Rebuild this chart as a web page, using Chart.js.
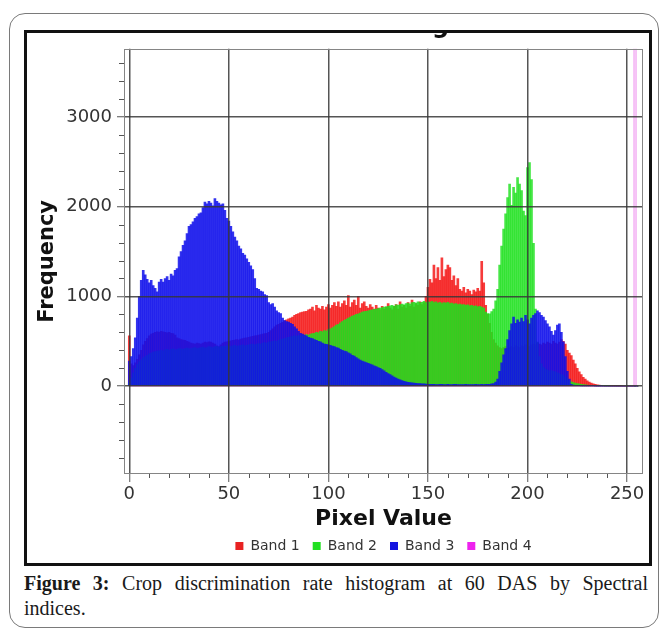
<!DOCTYPE html>
<html><head><meta charset="utf-8">
<script src="https://cdn.jsdelivr.net/npm/chart.js@4/dist/chart.umd.min.js"></script>
<style>
html,body{margin:0;padding:0;background:#fff;width:660px;height:628px;overflow:hidden;}
#frame{position:absolute;left:9px;top:13px;width:650px;height:615px;border:1px solid #7a7a7a;border-radius:16px;box-sizing:border-box;}
#box{position:absolute;left:24px;top:30px;width:628px;height:536px;border:3px solid #111;box-sizing:border-box;background:#fff;}
#box canvas{display:block;}
#cap{position:absolute;left:24px;top:571px;width:624px;font-family:'Liberation Serif','Times New Roman',serif;font-size:20px;line-height:25px;color:#1a1a1a;}
#cap .l1{text-align:justify;text-align-last:justify;white-space:nowrap;}
</style></head>
<body>
<div id="frame"></div>
<div id="box"><canvas id="c" width="622" height="530"></canvas></div>
<div id="cap"><div class="l1"><b>Figure 3:</b> Crop discrimination rate histogram at 60 DAS by Spectral</div><div>indices.</div></div>
<script>
const pixelValues = [
0,1,2,3,4,5,6,7,8,9,10,11,12,13,14,15,
16,17,18,19,20,21,22,23,24,25,26,27,28,29,30,31,
32,33,34,35,36,37,38,39,40,41,42,43,44,45,46,47,
48,49,50,51,52,53,54,55,56,57,58,59,60,61,62,63,
64,65,66,67,68,69,70,71,72,73,74,75,76,77,78,79,
80,81,82,83,84,85,86,87,88,89,90,91,92,93,94,95,
96,97,98,99,100,101,102,103,104,105,106,107,108,109,110,111,
112,113,114,115,116,117,118,119,120,121,122,123,124,125,126,127,
128,129,130,131,132,133,134,135,136,137,138,139,140,141,142,143,
144,145,146,147,148,149,150,151,152,153,154,155,156,157,158,159,
160,161,162,163,164,165,166,167,168,169,170,171,172,173,174,175,
176,177,178,179,180,181,182,183,184,185,186,187,188,189,190,191,
192,193,194,195,196,197,198,199,200,201,202,203,204,205,206,207,
208,209,210,211,212,213,214,215,216,217,218,219,220,221,222,223,
224,225,226,227,228,229,230,231,232,233,234,235,236,237,238,239,
240,241,242,243,244,245,246,247,248,249,250,251,252,253,254,255];

const band1 = [
560,250,230,260,300,350,400,460,500,530,560,580,590,600,605,600,
610,605,600,595,600,590,585,570,540,530,520,515,510,500,490,480,
475,470,480,475,470,480,490,485,495,490,480,470,450,440,460,480,
490,495,500,505,510,515,520,515,525,530,535,540,545,550,555,560,
565,570,575,580,585,590,600,620,640,660,680,690,700,710,730,740,
750,760,770,790,800,810,820,825,830,835,850,860,880,840,900,870,
860,890,850,880,910,870,900,930,890,940,880,920,950,900,1010,880,
930,960,900,1000,870,920,940,890,870,910,880,860,900,870,850,890,
860,880,920,870,850,890,910,860,940,880,900,870,930,890,960,880,
920,900,940,910,930,1000,1100,1190,1150,1350,1200,1320,1180,1430,1220,1300,
1350,1320,1180,1230,1120,1200,1080,1060,1100,1040,1080,1060,1020,1070,1050,1090,
1060,1390,1150,900,800,700,600,520,480,450,430,420,430,440,420,430,
440,430,450,440,430,450,440,460,450,440,460,470,460,480,470,460,
480,470,490,480,470,500,480,470,490,520,500,470,400,370,340,290,
250,200,160,130,100,80,60,45,35,25,20,15,12,10,8,6,
5,4,3,2,2,1,1,1,0,0,0,0,0,0,0,0];

const band2 = [
40,90,150,200,240,270,295,315,330,345,360,370,380,385,390,395,
400,395,405,410,400,410,415,405,410,420,415,410,420,425,415,420,
425,430,420,425,430,435,425,430,440,435,430,440,445,435,440,445,
440,450,445,440,450,455,445,450,455,460,450,455,460,465,470,460,
470,475,470,480,485,480,490,495,500,505,500,510,520,525,530,540,
545,550,555,560,555,565,560,570,565,575,570,580,585,590,600,595,
610,605,620,615,630,640,650,665,680,690,705,720,735,745,760,770,
780,790,800,805,815,825,830,835,840,845,850,855,860,865,870,875,
880,885,890,895,900,890,905,900,910,915,905,920,925,915,930,935,
925,940,930,935,945,930,940,935,945,930,940,925,935,920,930,925,
935,920,925,915,920,910,915,905,910,900,905,895,900,890,895,885,
890,880,870,825,810,805,830,860,950,1080,1350,1560,1750,1920,2100,2250,
2015,2215,2150,2325,2250,2180,1950,1900,2435,2490,2300,1590,860,490,330,250,
210,190,180,170,175,165,160,150,140,130,120,100,80,60,50,40,
35,30,25,20,18,15,12,10,8,6,5,4,3,2,2,1,
1,1,0,0,0,0,0,0,0,0,0,0,0,0,0,0];

const band3 = [
280,330,420,540,760,1000,1180,1290,1240,1190,1150,1180,1120,1090,1050,1160,
1190,1160,1200,1220,1180,1250,1230,1290,1310,1440,1500,1570,1620,1700,1780,1800,
1830,1870,1890,1920,1930,1990,2050,2030,2060,2040,2010,2090,2060,2040,2020,2030,
1960,1870,1840,1780,1720,1660,1620,1560,1530,1480,1460,1420,1380,1340,1300,1200,
1090,1080,1060,1050,1020,1010,930,910,920,880,840,820,810,760,730,720,
715,700,690,660,640,610,590,580,570,560,545,535,530,520,510,500,
495,480,470,465,460,455,448,440,430,425,410,400,392,385,372,360,
345,335,320,305,290,280,270,262,255,245,238,228,218,208,198,185,
170,155,140,128,115,102,90,80,70,62,55,48,44,40,37,35,
32,30,28,26,25,24,22,21,20,22,19,18,20,21,19,18,
20,19,18,20,21,19,18,17,19,20,18,17,19,18,20,19,
18,20,19,21,20,22,25,30,45,80,165,260,350,420,520,620,
695,770,700,740,715,760,720,790,740,695,760,790,810,840,820,790,
770,730,695,660,610,570,620,680,695,600,495,330,165,80,20,12,
8,6,5,4,4,3,3,2,2,2,1,1,1,1,0,0,
0,0,0,0,0,0,0,0,0,0,0,0,0,0,0,0];

const band4 = [
0,0,0,0,0,0,0,0,0,0,0,0,0,0,0,0,
0,0,0,0,0,0,0,0,0,0,0,0,0,0,0,0,
0,0,0,0,0,0,0,0,0,0,0,0,0,0,0,0,
0,0,0,0,0,0,0,0,0,0,0,0,0,0,0,0,
0,0,0,0,0,0,0,0,0,0,0,0,0,0,0,0,
0,0,0,0,0,0,0,0,0,0,0,0,0,0,0,0,
0,0,0,0,0,0,0,0,0,0,0,0,0,0,0,0,
0,0,0,0,0,0,0,0,0,0,0,0,0,0,0,0,
0,0,0,0,0,0,0,0,0,0,0,0,0,0,0,0,
0,0,0,0,0,0,0,0,0,0,0,0,0,0,0,0,
0,0,0,0,0,0,0,0,0,0,0,0,0,0,0,0,
0,0,0,0,0,0,0,0,0,0,0,0,0,0,0,0,
0,0,0,0,0,0,0,0,0,0,0,0,0,0,0,0,
0,0,0,0,0,0,0,0,0,0,0,0,0,0,0,0,
0,0,0,0,0,0,0,0,0,0,0,0,0,0,0,0,
0,0,0,0,0,0,0,0,0,0,0,0,0,0,5000,0];

const seriesNames = ['Band 1','Band 2','Band 3','Band 4'];
const xTickValues = [0,50,100,150,200,250];
const yTickValues = [0,1000,2000,3000];

const fillColors = ['rgba(245,25,25,0.85)','rgba(30,225,30,0.82)','rgba(15,15,235,0.85)'];
const legendColors = ['#e82222','#22e022','#1414e0','#ee22ee'];
const gridColor = 'rgba(55,55,55,0.85)';

Chart.defaults.font.family = "'DejaVu Sans', Verdana, sans-serif";

const framePlugin = {
  id: 'frameAndMinorTicks',
  afterDraw(chart) {
    const {ctx, chartArea: a, scales: {x, y}} = chart;
    ctx.save();
    ctx.strokeStyle = '#858585';
    ctx.lineWidth = 1;
    ctx.strokeRect(Math.round(a.left) + 0.5, Math.round(a.top) + 0.5, Math.round(a.width) - 1, Math.round(a.height) - 1);
    ctx.strokeStyle = '#555';
    ctx.beginPath();
    for (let v = 10; v <= 250; v += 10) {
      if (v % 50 === 0) continue;
      const px = Math.round(x.getPixelForValue(v)) + 0.5;
      ctx.moveTo(px, a.bottom); ctx.lineTo(px, a.bottom + 4);
    }
    for (let v = -800; v <= 3600; v += 200) {
      if (v % 1000 === 0) continue;
      const py = Math.round(y.getPixelForValue(v)) + 0.5;
      ctx.moveTo(a.left - 5, py); ctx.lineTo(a.left, py);
    }
    ctx.stroke();
    ctx.fillStyle = '#111';
    ctx.font = "bold 24px 'DejaVu Sans'";
    ctx.textAlign = 'center';
    ctx.textBaseline = 'alphabetic';
    ctx.fillText('Raster Histogram', (a.left + a.right) / 2, 0);
    ctx.restore();
  }
};

const barCommon = {grouped: false, barPercentage: 1, categoryPercentage: 1, borderWidth: 0};

new Chart(document.getElementById('c'), {
  type: 'bar',
  data: {
    labels: pixelValues,
    datasets: [
      Object.assign({label: seriesNames[0], data: band1, backgroundColor: fillColors[0], order: 3}, barCommon),
      Object.assign({label: seriesNames[1], data: band2, backgroundColor: fillColors[1], order: 2}, barCommon),
      Object.assign({label: seriesNames[2], data: band3, backgroundColor: fillColors[2], order: 1}, barCommon),
      {type: 'line', label: seriesNames[3], data: band4, borderColor: 'rgba(225,60,225,0.6)', backgroundColor: legendColors[3],
       borderWidth: 1, pointRadius: 0, stepped: 'middle', fill: false, order: 0}
    ]
  },
  options: {
    responsive: false,
    animation: false,
    devicePixelRatio: 1,
    layout: {padding: {top: 10, right: 6, left: 0, bottom: 0}},
    plugins: {
      tooltip: {enabled: false},
      legend: {
        position: 'bottom',
        fullSize: false,
        labels: {
          boxWidth: 8, boxHeight: 8, padding: 13, color: '#333', font: {size: 14},
          sort: (a, b) => a.datasetIndex - b.datasetIndex,
          generateLabels: (chart) => Chart.defaults.plugins.legend.labels.generateLabels(chart).map(it => Object.assign(it, {
            fillStyle: legendColors[it.datasetIndex], strokeStyle: legendColors[it.datasetIndex], lineWidth: 0, lineDash: []
          }))
        }
      }
    },
    scales: {
      x: {
        type: 'linear', min: -2.66, max: 258, offset: false,
        afterBuildTicks: (s) => { s.ticks = xTickValues.map(v => ({value: v})); },
        afterFit: (s) => { s.height = 52; },
        grid: {offset: false, z: 1, color: gridColor, lineWidth: 1.5, tickLength: 8, tickColor: '#555', tickWidth: 1},
        border: {display: false},
        ticks: {padding: 2, color: '#333', font: {size: 18}, maxRotation: 0, autoSkip: false},
        title: {display: true, text: 'Pixel Value', color: '#111', font: {size: 22, weight: 'bold', lineHeight: 0.6}, padding: {top: 0, bottom: 0}}
      },
      y: {
        type: 'linear', min: -978, max: 3758,
        afterBuildTicks: (s) => { s.ticks = yTickValues.map(v => ({value: v})); },
        afterFit: (s) => { s.width = 97; },
        grid: {z: 1, color: gridColor, lineWidth: 1.5, tickLength: 7, tickColor: '#555', tickWidth: 1},
        border: {display: false},
        ticks: {padding: 5, color: '#333', font: {size: 18}, callback: (v) => String(v)},
        title: {display: true, text: 'Frequency', color: '#111', font: {size: 21, weight: 'bold'}, padding: {top: 8, bottom: 0}}
      }
    }
  },
  plugins: [framePlugin]
});
</script>
</body></html>
